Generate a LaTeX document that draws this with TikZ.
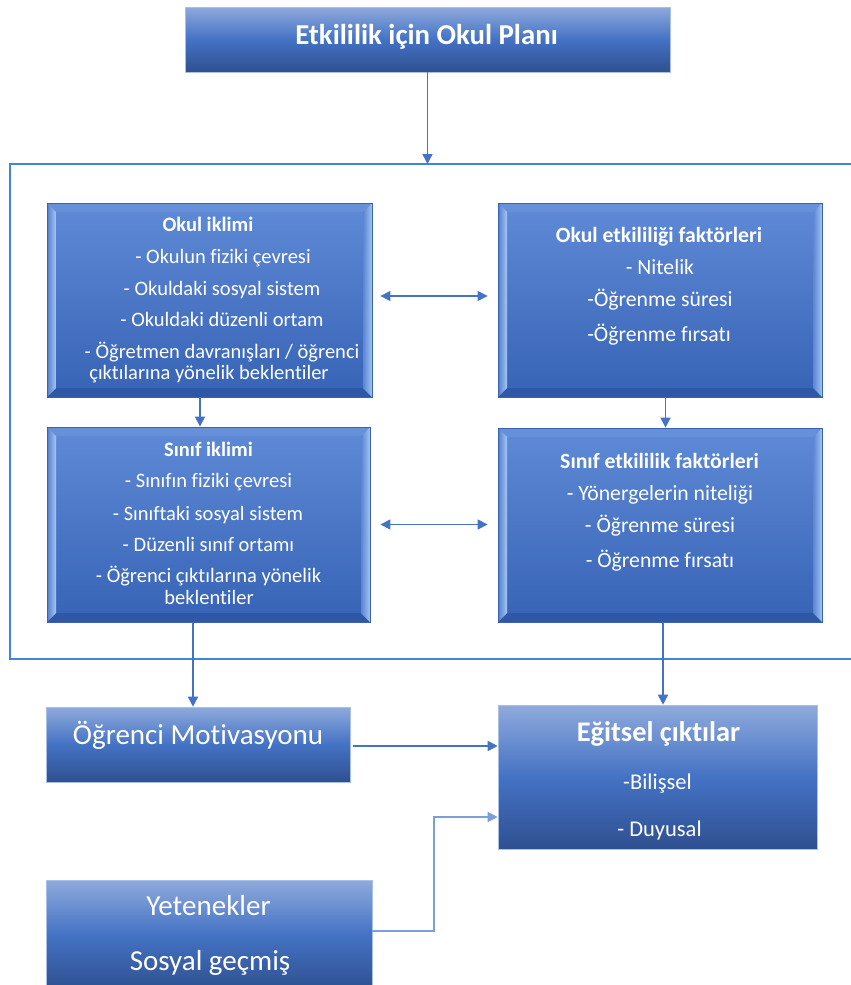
\documentclass[tikz,border=0pt]{standalone}
\usepackage{fontspec}
\setmainfont{Carlito}[Ligatures=NoCommon]
\usetikzlibrary{arrows.meta}
\definecolor{gT}{HTML}{8FAADC}
\definecolor{gM}{HTML}{4472C4}
\definecolor{gB}{HTML}{2F5090}
\definecolor{gEdge}{HTML}{A9BFE6}
\definecolor{bvT}{HTML}{5F8AD6}
\definecolor{bvB}{HTML}{3763B6}
\definecolor{bvTop}{HTML}{6690DA}
\definecolor{bvBot}{HTML}{2E58A6}
\definecolor{bvLa}{HTML}{527DCB}
\definecolor{bvLb}{HTML}{A6C8F6}
\definecolor{bvRa}{HTML}{5A86D2}
\definecolor{bvRb}{HTML}{A2C4F2}
\definecolor{bvEdge}{HTML}{3A62AE}
\definecolor{aC}{HTML}{4472C4}
\definecolor{aL}{HTML}{7C9FDB}
\definecolor{frC}{HTML}{3E86D6}
\pgfdeclareverticalshading{gradbox}{100bp}{color(0bp)=(gB); color(25bp)=(gB); color(50bp)=(gM); color(75bp)=(gT); color(100bp)=(gT)}
\newcommand\bevbox[5]{%
  \shade[top color=bvT, bottom color=bvB] (#2,#3) rectangle (#4,#5);
  \fill[bvTop] (#2,#3) -- (#4,#3) -- ({#4-9},{#3+9}) -- ({#2+9},{#3+9}) -- cycle;
  \fill[bvBot] (#2,#5) -- (#4,#5) -- ({#4-9},{#5-9}) -- ({#2+9},{#5-9}) -- cycle;
  \shade[left color=bvLa, right color=bvLb] (#2,#3) -- ({#2+9},{#3+9}) -- ({#2+9},{#5-9}) -- (#2,#5) -- cycle;
  \shade[left color=bvRa, right color=bvRb] ({#4-9},{#3+9}) -- (#4,#3) -- (#4,#5) -- ({#4-9},{#5-9}) -- cycle;
  \node[draw=bvEdge, line width=0.8pt, inner sep=0pt, minimum width={#4-#2}, minimum height={#5-#3}] (#1) at ({(#2+#4)/2},{(#3+#5)/2}) {};
}
\begin{document}
\begin{tikzpicture}[x=1pt,y=-1pt,
  gbox/.style={shading=gradbox, draw=gEdge, line width=0.6pt, inner sep=0pt},
  txt/.style={text=white, inner sep=0pt, anchor=base, font=\fontsize{20.5}{24}\selectfont},
  btxt/.style={txt, font=\fontsize{20.5}{24}\selectfont\bfseries},
  rtxt/.style={txt, font=\fontsize{21.7}{25}\selectfont},
  rbtxt/.style={txt, font=\fontsize{21.7}{25}\selectfont\bfseries},
  arr/.style={draw=aC, line width=1.4pt, -{Triangle[length=10pt,width=10pt]}},
  darr/.style={draw=aC, line width=1.4pt, {Triangle[length=10pt,width=10pt]}-{Triangle[length=10pt,width=10pt]}},
  arrl/.style={draw=aL, line width=1.4pt, -{Triangle[length=10pt,width=10pt]}},
  frame/.style={draw=frC, line width=1.8pt}]
\useasboundingbox (0,0) rectangle (851,985);

% frame
\draw[frame] (853,164) -- (10,164) -- (10,659) -- (853,659);
\coordinate (frtop) at (10,164);

% top box
\node[gbox, minimum width=485pt, minimum height=65pt] (plan) at (427.5,39.5) {};
\node[txt, font=\fontsize{28.8}{32}\selectfont\bfseries] (plantxt) at (426.5,44) {Etkililik için Okul Planı};

% bevel boxes
\bevbox{oi}{47}{203}{372}{397}
\bevbox{oe}{498}{203}{822}{397}
\bevbox{si}{47}{427}{370}{622}
\bevbox{se}{498}{428}{822}{622}

% Okul iklimi
\node[btxt] (oi0) at (208,231) {Okul iklimi};
\node[txt] (oi1) at (223,263) {- Okulun fiziki çevresi};
\node[txt] (oi2) at (222,295) {- Okuldaki sosyal sistem};
\node[txt] (oi3) at (222,326) {- Okuldaki düzenli ortam};
\node[txt] (oi4) at (222,358) {- Öğretmen davranışları / öğrenci};
\node[txt] (oi5) at (209,379) {çıktılarına yönelik beklentiler};

% Okul etkililigi
\node[rbtxt] (oe0) at (659,242) {Okul etkililiği faktörleri};
\node[rtxt] (oe1) at (660,274) {- Nitelik};
\node[rtxt] (oe2) at (660,306) {-Öğrenme süresi};
\node[rtxt] (oe3) at (659,341) {-Öğrenme fırsatı};

% Sinif iklimi
\node[btxt] (si0) at (208.5,456) {Sınıf iklimi};
\node[txt] (si1) at (208.5,487) {- Sınıfın fiziki çevresi};
\node[txt] (si2) at (208,520) {- Sınıftaki sosyal sistem};
\node[txt] (si3) at (208.5,551) {- Düzenli sınıf ortamı};
\node[txt] (si4) at (208.5,582) {- Öğrenci çıktılarına yönelik};
\node[txt] (si5) at (209,604) {beklentiler};

% Sinif etkililik
\node[rbtxt] (se0) at (659.5,468) {Sınıf etkililik faktörleri};
\node[rtxt] (se1) at (660,500) {- Yönergelerin niteliği};
\node[rtxt] (se2) at (660,532) {- Öğrenme süresi};
\node[rtxt] (se3) at (660,567) {- Öğrenme fırsatı};

% bottom boxes
\node[gbox, minimum width=304pt, minimum height=75pt] (om) at (198,744.5) {};
\node[txt, font=\fontsize{29}{33}\selectfont] (omt) at (198,744) {Öğrenci Motivasyonu};

\node[gbox, minimum width=319pt, minimum height=144pt] (eg) at (657.5,777) {};
\node[txt, font=\fontsize{28.4}{32}\selectfont\bfseries] (eg0) at (658.5,741) {Eğitsel çıktılar};
\node[txt, font=\fontsize{22.5}{26}\selectfont] (eg1) at (657.5,789) {-Bilişsel};
\node[txt, font=\fontsize{22.5}{26}\selectfont] (eg2) at (659.5,836) {- Duyusal};

\node[gbox, minimum width=326pt, minimum height=110pt] (yt) at (209,935) {};
\node[txt, font=\fontsize{29}{33}\selectfont] (yt0) at (208.5,915) {Yetenekler};
\node[txt, font=\fontsize{29}{33}\selectfont] (yt1) at (210,970) {Sosyal geçmiş};

% connectors
\draw[arr] (plan.south) -- (plan.south |- frtop);

\coordinate (v1) at ([xshift=-9.5pt]oi.south);
\draw[arr] (v1) -- (v1 |- si.north);
\coordinate (v2) at ([xshift=5.5pt]oe.south);
\draw[arr] (v2) -- (v2 |- se.north);

\coordinate (d1) at ([xshift=8pt,yshift=4pt]oi.east);
\draw[darr, shorten >=10pt] (d1) -- (d1 -| oe.west);
\coordinate (d2) at ([xshift=10pt]si.east);
\draw[darr, shorten >=10pt] (d2) -- (d2 -| se.west);

\coordinate (v3) at ([xshift=-15.5pt]si.south);
\draw[arr] (v3) -- (v3 |- om.north);
\coordinate (v4) at ([xshift=3pt]se.south);
\draw[arr] (v4) -- (v4 |- eg.north);

\coordinate (m1) at ([xshift=3pt,yshift=-1.5pt]om.east);
\draw[arr] (m1) -- (m1 -| eg.west);

\coordinate (y1) at ([yshift=4pt]yt.east);
\coordinate (kx) at (434,0);
\coordinate (e2) at ([yshift=-40pt]eg.west);
\draw[arrl] (y1) -- (y1 -| kx) |- (e2);
\end{tikzpicture}
\end{document}
